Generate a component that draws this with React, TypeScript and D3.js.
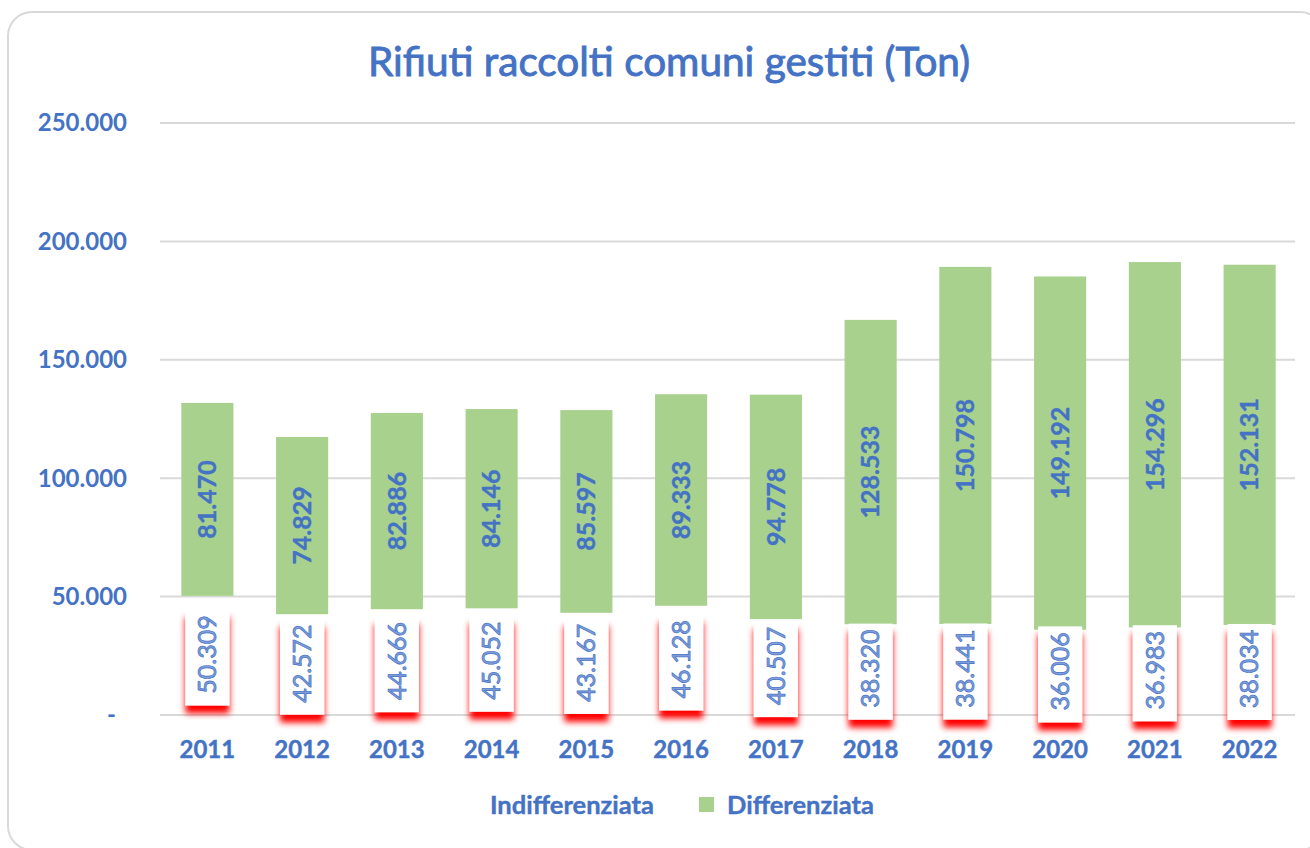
import React from "react";
import * as d3 from "d3";

const years = ["2011","2012","2013","2014","2015","2016","2017","2018","2019","2020","2021","2022"];
const indifferenziata = [50309, 42572, 44666, 45052, 43167, 46128, 40507, 38320, 38441, 36006, 36983, 38034];
const differenziata = [81470, 74829, 82886, 84146, 85597, 89333, 94778, 128533, 150798, 149192, 154296, 152131];
const yTicks = [0, 50000, 100000, 150000, 200000, 250000];
const seriesNames = ["Indifferenziata", "Differenziata"];
const title = "Rifiuti raccolti comuni gestiti (Ton)";

const BLUE = "#4472C4";
const GREEN = "#A9D18E";
const GRID = "#d9d9d9";
const FONT = "Lato, 'Open Sans', sans-serif";

const itLocale = d3.formatLocale({ decimal: ",", thousands: ".", grouping: [3], currency: ["€", ""] });
const fmt = itLocale.format(",d");

export default function App() {
  const W = 1310, H = 848;
  const x = d3.scaleBand<string>().domain(years).range([160, 1297]).paddingInner(0.45).paddingOuter(0.225);
  const y = d3.scaleLinear().domain([0, 250000]).range([715, 123]);
  const bw = x.bandwidth();

  const rows = years.map((yr, i) => ({ yr, a: indifferenziata[i], b: differenziata[i] }));

  return (
    <svg width={W} height={H} style={{ position: "absolute", left: 0, top: 0, background: "#fff" }} fontFamily={FONT}>
      <defs>
        <filter id="redglow" x="-60%" y="-30%" width="220%" height="170%">
          <feDropShadow dx="0" dy="8" stdDeviation="3.2" floodColor="#ff0000" floodOpacity="1" />
        </filter>
      </defs>
      <rect x={8} y={12} width={1316} height={838} rx={24} ry={24} fill="#fff" stroke={GRID} strokeWidth={2} />
      <text x={669} y={76} textAnchor="middle" fontSize={40.5} fill={BLUE} stroke={BLUE} strokeWidth={0.9}>{title}</text>

      {yTicks.map((t) => (
        <g key={t}>
          <line x1={160} x2={1295} y1={y(t)} y2={y(t)} stroke={GRID} strokeWidth={2} />
          <text x={t === 0 ? 116 : 127} y={y(t)} dy="0.35em" textAnchor="end" fontSize={24} fontWeight="bold" fill={BLUE}>
            {t === 0 ? "-" : fmt(t)}
          </text>
        </g>
      ))}

      {rows.map((r) => {
        const x0 = x(r.yr)!;
        const cx = x0 + bw / 2;
        const yA0 = y(0), yA1 = y(r.a);
        const yB1 = y(r.a + r.b);
        const cA = (yA0 + yA1) / 2 + 2;
        const cB = (yA1 + yB1) / 2;
        const boxH = 96;
        return (
          <g key={r.yr}>
            <rect x={x0} y={yB1} width={bw} height={yA1 - yB1} fill={GREEN} />
            <rect x={x0 + 4} y={cA - boxH / 2} width={bw - 8} height={boxH} fill="#fff" filter="url(#redglow)" />
            <text transform={`translate(${cx},${cA - 3}) rotate(-90)`} textAnchor="middle" dy="0.35em" fontSize={25}
              fill="#7f9ddb" stroke={BLUE} strokeWidth={0.7}>{fmt(r.a)}</text>
            <text transform={`translate(${cx},${cB}) rotate(-90)`} textAnchor="middle" dy="0.35em" fontSize={25}
              fontWeight="bold" fill={BLUE} stroke={BLUE} strokeWidth={0.4}>{fmt(r.b)}</text>
            <text x={cx} y={750} dy="0.35em" textAnchor="middle" fontSize={24} fontWeight="bold" fill={BLUE} stroke={BLUE} strokeWidth={0.4}>{r.yr}</text>
          </g>
        );
      })}

      <g>
        <rect x={457} y={797} width={15} height={15} fill="#fff" />
        <text x={490} y={805} dy="0.35em" fontSize={25.5} fontWeight="bold" fill={BLUE} stroke={BLUE} strokeWidth={0.4}>{seriesNames[0]}</text>
        <rect x={699} y={797} width={15} height={15} fill={GREEN} />
        <text x={727} y={805} dy="0.35em" fontSize={25.5} fontWeight="bold" fill={BLUE} stroke={BLUE} strokeWidth={0.4}>{seriesNames[1]}</text>
      </g>
    </svg>
  );
}
